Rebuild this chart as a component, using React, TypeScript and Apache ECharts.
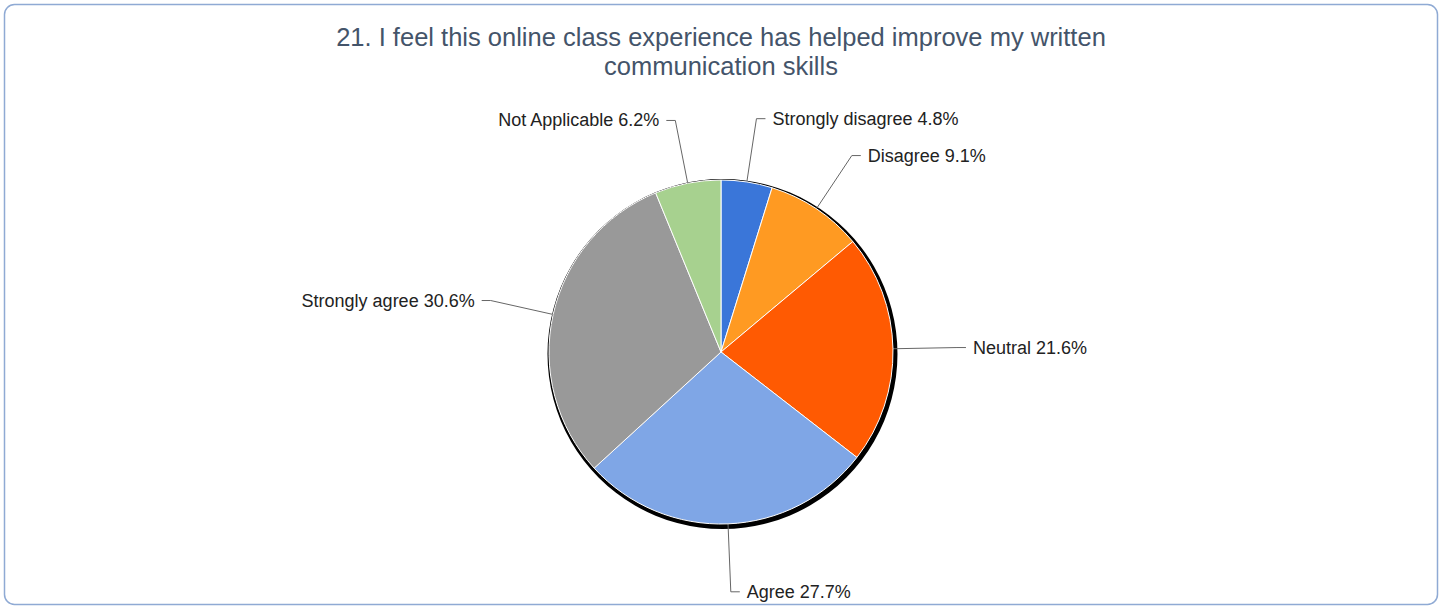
import React, { useEffect, useRef } from "react";
import * as echarts from "echarts";

const titleLines = [
  "21. I feel this online class experience has helped improve my written",
  "communication skills",
];
const categories = [
  "Strongly disagree",
  "Disagree",
  "Neutral",
  "Agree",
  "Strongly agree",
  "Not Applicable",
];
const percents = [4.8, 9.1, 21.6, 27.7, 30.6, 6.2];
const colors = ["#3a76d9", "#ff9a22", "#ff5a02", "#7fa6e6", "#999999", "#a7d18f"];

export default function App() {
  const ref = useRef<HTMLDivElement>(null);
  useEffect(() => {
    const chart = echarts.init(ref.current!, null, { renderer: "svg" });
    const data = categories.map((name, i) => ({
      name,
      value: percents[i],
      itemStyle: { color: colors[i] },
      ...(name === "Agree" ? { labelLine: { length: 68 } } : {}),
    }));
    chart.setOption({
      animation: false,
      backgroundColor: "#ffffff",
      title: {
        text: titleLines.join("\n"),
        left: "center",
        top: 17,
        textStyle: {
          fontFamily: "Liberation Sans",
          fontSize: 25.5,
          fontWeight: "normal",
          color: "#44546a",
          lineHeight: 29,
        },
      },
      graphic: [
        {
          type: "rect",
          shape: { x: 4.5, y: 4.5, width: 1433, height: 600, r: 10 },
          style: { fill: "none", stroke: "#8faad4", lineWidth: 1.5 },
          silent: true,
        },
      ],
      series: [
        {
          type: "pie",
          center: [722.5, 354],
          radius: [0, 175],
          silent: true,
          label: { show: false },
          labelLine: { show: false },
          data: [{ value: 1, itemStyle: { color: "#000000" } }],
          z: 1,
        },
        {
          type: "pie",
          center: [721, 352],
          radius: [0, 172],
          startAngle: 90,
          clockwise: true,
          avoidLabelOverlap: false,
          silent: true,
          z: 2,
          itemStyle: { borderColor: "#ffffff", borderWidth: 1 },
          label: {
            show: true,
            position: "outside",
            formatter: (p: any) => `${p.name} ${p.value.toFixed(1)}%`,
            fontFamily: "Liberation Sans",
            fontSize: 18,
            color: "#222222",
            distanceToLabelLine: 7,
          },
          labelLine: {
            show: true,
            length: 64,
            length2: 9,
            smooth: false,
            lineStyle: { color: "#666666", width: 1 },
          },
          data,
        },
      ],
    });
    return () => chart.dispose();
  }, []);
  return (
    <div
      ref={ref}
      style={{ position: "fixed", left: 0, top: 0, width: 1442, height: 606 }}
    />
  );
}
